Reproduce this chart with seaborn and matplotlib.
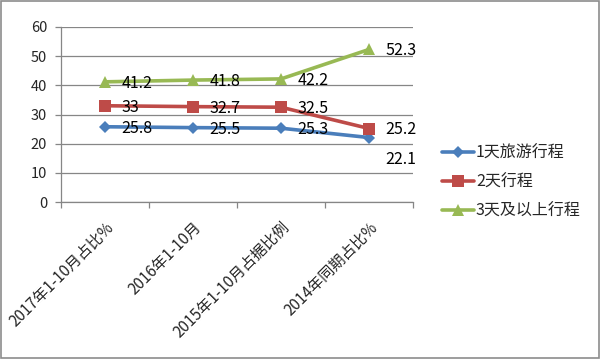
import matplotlib
matplotlib.use("Agg")
import matplotlib.pyplot as plt
import seaborn as sns
import pandas as pd
import numpy as np
from matplotlib.ticker import FixedLocator, MultipleLocator

categories = ["2017年1-10月占比%", "2016年1-10月", "2015年1-10月占据比例", "2014年同期占比%"]
series_names = ["1天旅游行程", "2天行程", "3天及以上行程"]
one_day = [25.8, 25.5, 25.3, 22.1]
two_day = [33, 32.7, 32.5, 25.2]
three_day = [41.2, 41.8, 42.2, 52.3]
value_labels = {
    "1天旅游行程": ["25.8", "25.5", "25.3", "22.1"],
    "2天行程": ["33", "32.7", "32.5", "25.2"],
    "3天及以上行程": ["41.2", "41.8", "42.2", "52.3"],
}

colors = ["#4A7EBB", "#BE4B48", "#98B954"]
markers = ["D", "s", "^"]
msizes = [6.5, 8.5, 9]

sns.set_theme(style="white")
plt.rcParams["font.family"] = ["Noto Sans CJK SC", "DejaVu Sans"]

df = pd.DataFrame({
    "x": list(range(len(categories))) * 3,
    "value": one_day + two_day + three_day,
    "series": [s for s in series_names for _ in categories],
})

fig = plt.figure(figsize=(6, 3.59), dpi=100)
ax = fig.add_axes([61 / 600, 1 - 202 / 359, 352 / 600, 175 / 359])

for name, c, m, ms in zip(series_names, colors, markers, msizes):
    sub = df[df["series"] == name]
    sns.lineplot(data=sub, x="x", y="value", ax=ax, color=c, marker=m,
                 markersize=ms, markeredgewidth=0, linewidth=2.6, label=name)
    for i, (xv, yv) in enumerate(zip(sub["x"], sub["value"])):
        dy = -1
        if name == "1天旅游行程" and i == 3:
            dy = -16
        ax.annotate(value_labels[name][i], (xv, yv), xytext=(12, dy),
                    textcoords="offset points", ha="left", va="center",
                    fontsize=11.5, color="#000000")

ax.set_xlim(-0.5, len(categories) - 0.5)
ax.set_ylim(0, 60)
ax.yaxis.set_major_locator(MultipleLocator(10))
ax.grid(axis="y", color="#868686", linewidth=0.9)
ax.set_xlabel("")
ax.set_ylabel("")

ax.set_xticks(range(len(categories)))
ax.set_xticklabels(categories, rotation=45, ha="right", va="top",
                   rotation_mode="anchor", fontsize=11)
ax.xaxis.set_minor_locator(FixedLocator(np.arange(-0.5, len(categories), 1)))
ax.tick_params(axis="x", which="major", length=0, pad=12)
ax.tick_params(axis="x", which="minor", length=4, width=0.9, color="#868686",
               direction="out", bottom=True)
ax.tick_params(axis="y", length=4, width=0.9, color="#868686", left=True,
               direction="out", labelsize=10.5, pad=6)

for side in ["top", "right"]:
    ax.spines[side].set_visible(False)
for side in ["left", "bottom"]:
    ax.spines[side].set_color("#868686")
    ax.spines[side].set_linewidth(0.9)

leg = ax.legend(loc="upper left", bbox_to_anchor=(428 / 600, 1 - 130 / 359),
                bbox_transform=fig.transFigure, frameon=False, fontsize=11.5,
                handlelength=2.0, handletextpad=0.1, labelspacing=0.75)

fig.patches.append(plt.Rectangle((0.002, 0.003), 0.996, 0.994, transform=fig.transFigure,
                                 fill=False, edgecolor="#8C8C8C", linewidth=1.2))

fig.savefig("out.png", dpi=100)
